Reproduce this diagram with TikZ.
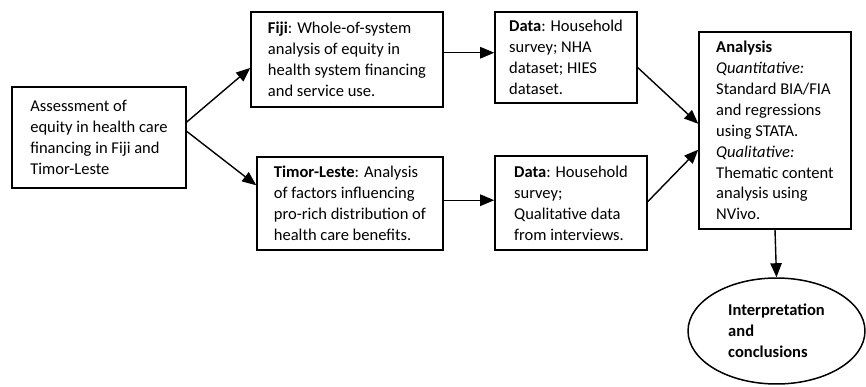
\documentclass[tikz,border=0pt]{standalone}
\usepackage{fontspec}
\setmainfont{Carlito}
\usetikzlibrary{arrows.meta,shapes.geometric}

\begin{document}
\begin{tikzpicture}[x=0.02cm,y=0.02cm,
    font=\fontsize{9.4}{11.9}\selectfont,
    box/.style={draw,line width=0.85pt,align=left,inner sep=0pt},
    arr/.style={-{Triangle[length=8pt,width=6.5pt]},line width=0.8pt}]
    \useasboundingbox (0,0) rectangle (866,386);

    \node[box,minimum width=3.48cm,minimum height=2.02cm] (assess) at (99,248.5)
        {Assessment of\\equity in health care\\financing in Fiji and\\Timor-Leste};
    \node[box,minimum width=3.84cm,minimum height=1.90cm] (fiji) at (347,326.5)
        {\textbf{Fiji}: Whole-of-system\\analysis of equity in\\health system financing\\and service use.};
    \node[box,minimum width=3.72cm,minimum height=1.86cm] (timor) at (350,182.5)
        {\textbf{Timor-Leste}: Analysis\\of factors influencing\\pro-rich distribution of\\health care benefits.};
    \node[box,minimum width=2.84cm,minimum height=1.82cm] (data1) at (566,328.5)
        {\textbf{Data}: Household\\survey; NHA\\dataset; HIES\\dataset.};
    \node[box,minimum width=3.04cm,minimum height=1.88cm] (data2) at (571,183)
        {\textbf{Data}: Household\\survey;\\Qualitative data\\from interviews.};
    \node[box,minimum width=3.04cm,minimum height=3.94cm] (analysis) at (775,255.5)
        {\textbf{Analysis}\\\textit{Quantitative:}\\Standard BIA/FIA\\and regressions\\using STATA.\\\textit{Qualitative:}\\Thematic content\\analysis using\\NVivo.};
    \node[box,ellipse,minimum width=3.54cm,minimum height=2.12cm,font=\fontsize{9.4}{11.9}\selectfont\bfseries] (interp) at (776.5,55)
        {Interpretation\\and\\conclusions};

    % Flow arrows
    \draw[arr] (assess.10) -- (fiji.185);
    \draw[arr] (assess.4) -- (timor.169);
    \draw[arr] (fiji.4) -- (fiji.4 -| data1.west);
    \draw[arr] (timor.2) -- (timor.2 -| data2.west);
    \draw[arr] (data1.-8) -- (analysis.175);
    \draw[arr] (data2.1) -- (analysis.194);
    \draw[arr] (analysis.south) -- (interp.north);
\end{tikzpicture}
\end{document}
